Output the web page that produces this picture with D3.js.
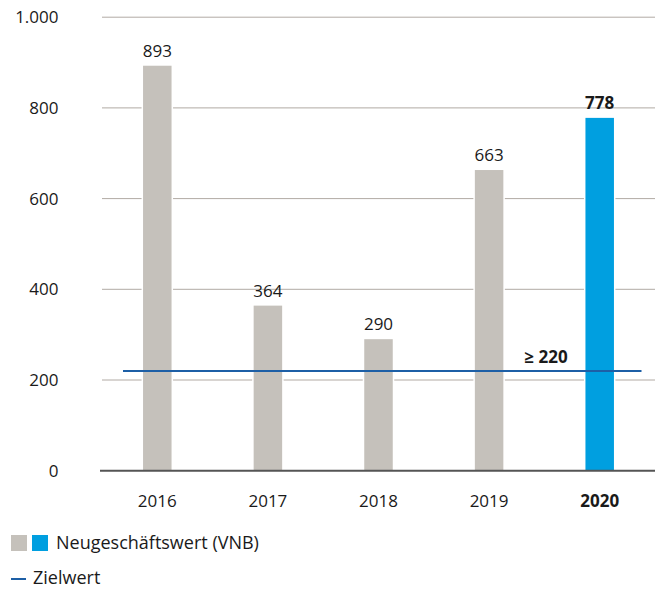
<!DOCTYPE html>
<html>
<head>
<meta charset="utf-8">
<script src="https://cdn.jsdelivr.net/npm/d3@7"></script>
<style>
  body { margin: 0; background: #fff; }
  svg { font-family: "Open Sans", "Noto Sans", sans-serif; }
</style>
</head>
<body>
<div id="chart"></div>
<script>
  var years = ['2016', '2017', '2018', '2019', '2020'];
  var vnbValues = [893, 364, 290, 663, 778];
  var yTicks = [0, 200, 400, 600, 800, 1000];
  var targetValue = 220;
  var targetLabel = '≥ 220';
  var legendLabels = ['Neugeschäftswert (VNB)', 'Zielwert'];

  var W = 658, H = 591;
  var GRAY = '#c5c1bb', BLUE = '#009fe0', TARGET = '#1d5fa6';
  var GRID = '#b1aaa4', AXIS = '#555555', TEXT = '#1a1a1a';
  var FS = 17;

  var svg = d3.select('#chart').append('svg')
    .attr('width', W).attr('height', H);

  var x = d3.scaleBand().domain(years).range([102, 655]).paddingInner(0).paddingOuter(0);
  var y = d3.scaleLinear().domain([0, 1000]).range([470.7, 17.2]);
  var barW = 28.5;
  var last = years.length - 1;

  // gridlines
  svg.append('g').selectAll('line')
    .data(yTicks.filter(function(d) { return d > 0; }))
    .join('line')
    .attr('x1', 102).attr('x2', 655)
    .attr('y1', function(d) { return y(d); }).attr('y2', function(d) { return y(d); })
    .attr('stroke', GRID).attr('stroke-width', 1);

  // y labels
  svg.append('g').selectAll('text')
    .data(yTicks)
    .join('text')
    .attr('x', 58.5).attr('y', function(d) { return y(d); })
    .attr('dy', '0.35em')
    .attr('text-anchor', 'end')
    .attr('font-size', FS).attr('fill', TEXT)
    .text(function(d) { return d3.format(',')(d).replace(/,/g, '.'); });

  var cx = function(i) { return x(years[i]) + x.bandwidth() / 2; };

  // white halo behind bars to break the gridlines
  svg.append('g').selectAll('rect')
    .data(vnbValues)
    .join('rect')
    .attr('x', function(d, i) { return cx(i) - barW / 2 - 1.5; })
    .attr('width', barW + 3)
    .attr('y', function(d) { return y(d); })
    .attr('height', function(d) { return y(0) - y(d); })
    .attr('fill', '#fff');

  // bars
  svg.append('g').selectAll('rect')
    .data(vnbValues)
    .join('rect')
    .attr('x', function(d, i) { return cx(i) - barW / 2; })
    .attr('width', barW)
    .attr('y', function(d) { return y(d); })
    .attr('height', function(d) { return y(0) - y(d); })
    .attr('fill', function(d, i) { return i === last ? BLUE : GRAY; });

  // value labels
  svg.append('g').selectAll('text')
    .data(vnbValues)
    .join('text')
    .attr('x', function(d, i) { return cx(i); })
    .attr('y', function(d) { return y(d) - 9; })
    .attr('text-anchor', 'middle')
    .attr('font-size', FS)
    .attr('font-weight', function(d, i) { return i === last ? 'bold' : 'normal'; })
    .attr('fill', TEXT)
    .text(function(d) { return d; });

  // x axis line
  svg.append('line')
    .attr('x1', 100).attr('x2', 655)
    .attr('y1', y(0)).attr('y2', y(0))
    .attr('stroke', AXIS).attr('stroke-width', 2);

  // year labels
  svg.append('g').selectAll('text')
    .data(years)
    .join('text')
    .attr('x', function(d, i) { return cx(i); })
    .attr('y', 501)
    .attr('dy', '0.35em')
    .attr('text-anchor', 'middle')
    .attr('font-size', FS)
    .attr('font-weight', function(d, i) { return i === last ? 'bold' : 'normal'; })
    .attr('fill', TEXT)
    .text(function(d) { return d; });

  // target line
  svg.append('line')
    .attr('x1', 123).attr('x2', 641.5)
    .attr('y1', y(targetValue)).attr('y2', y(targetValue))
    .attr('stroke', TARGET).attr('stroke-width', 2);

  svg.append('text')
    .attr('x', 546).attr('y', y(targetValue) - 8)
    .attr('text-anchor', 'middle')
    .attr('font-size', FS).attr('font-weight', 'bold')
    .attr('fill', TEXT)
    .text(targetLabel);

  // legend
  var lg = svg.append('g');
  lg.append('rect').attr('x', 11).attr('y', 535).attr('width', 16).attr('height', 16).attr('fill', GRAY);
  lg.append('rect').attr('x', 32).attr('y', 535).attr('width', 16).attr('height', 16).attr('fill', BLUE);
  lg.append('text').attr('x', 56).attr('y', 543).attr('dy', '0.35em')
    .attr('font-size', 18).attr('fill', TEXT).text(legendLabels[0]);
  lg.append('line').attr('x1', 11).attr('x2', 26).attr('y1', 579).attr('y2', 579)
    .attr('stroke', TARGET).attr('stroke-width', 2);
  lg.append('text').attr('x', 33).attr('y', 578).attr('dy', '0.35em')
    .attr('font-size', 18).attr('fill', TEXT).text(legendLabels[1]);
</script>
</body>
</html>
